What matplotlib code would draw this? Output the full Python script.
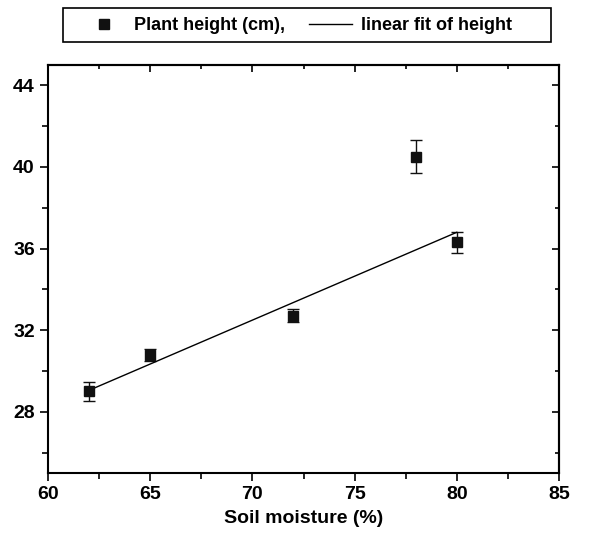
import matplotlib.pyplot as plt
from matplotlib.lines import Line2D
from matplotlib.patches import Rectangle
from matplotlib.ticker import MultipleLocator

# data
moisture = [62, 65, 72, 78, 80]
height = [29.0, 30.8, 32.7, 40.5, 36.3]
height_err = [0.45, 0.3, 0.32, 0.8, 0.5]
fit_x = [62, 80]
fit_y = [29.05, 36.8]

plt.rcParams["font.family"] = ["Liberation Sans", "DejaVu Sans"]
plt.rcParams["font.weight"] = "bold"

fig = plt.figure(figsize=(6.0, 5.36), dpi=100)
ax = fig.add_axes([48 / 600, 63 / 536, 511 / 600, 408 / 536])

ax.errorbar(moisture, height, yerr=height_err, fmt="s", color="#111111",
            ms=6.5, capsize=4, elinewidth=1, capthick=1)
ax.plot(fit_x, fit_y, color="black", lw=1)

ax.set_xlim(60, 85)
ax.set_ylim(25, 45)
ax.xaxis.set_major_locator(MultipleLocator(5))
ax.xaxis.set_minor_locator(MultipleLocator(2.5))
ax.yaxis.set_major_locator(MultipleLocator(4))
ax.yaxis.set_minor_locator(MultipleLocator(2))

ax.tick_params(which="both", direction="out", labelsize=14, width=1.2)
ax.tick_params(which="major", length=6)
ax.tick_params(which="minor", length=4)
for lab in ax.get_xticklabels() + ax.get_yticklabels():
    lab.set_fontweight("bold")

# inward ticks on top and right
sec_x = ax.secondary_xaxis("top")
sec_x.xaxis.set_major_locator(MultipleLocator(5))
sec_x.xaxis.set_minor_locator(MultipleLocator(2.5))
sec_x.tick_params(which="both", direction="in", labeltop=False, width=1.2)
sec_x.tick_params(which="major", length=5)
sec_x.tick_params(which="minor", length=3)
sec_y = ax.secondary_yaxis("right")
sec_y.yaxis.set_major_locator(MultipleLocator(4))
sec_y.yaxis.set_minor_locator(MultipleLocator(2))
sec_y.tick_params(which="both", direction="in", labelright=False, width=1.2)
sec_y.tick_params(which="major", length=5)
sec_y.tick_params(which="minor", length=3)

for s in ax.spines.values():
    s.set_linewidth(1.5)
sec_x.spines["top"].set_linewidth(1.5)
sec_y.spines["right"].set_linewidth(1.5)

ax.set_xlabel("Soil moisture (%)", fontsize=14, fontweight="bold", labelpad=5)

# legend box above the plot
fig.patches.append(Rectangle((63 / 600, 1 - 42 / 536), 488 / 600, 34 / 536,
                             transform=fig.transFigure, fill=False,
                             edgecolor="black", lw=1.2))
handles = [Line2D([], [], marker="s", ls="none", color="#111111", ms=6.5),
           Line2D([], [], color="black", lw=1)]
leg = fig.legend(handles, ["Plant height (cm),", "linear fit of height"],
                 loc="center", bbox_to_anchor=(297 / 600, 1 - 26 / 536),
                 ncol=2, frameon=False, fontsize=13, handlelength=2.4,
                 handletextpad=0.5, columnspacing=1.3)
for t in leg.get_texts():
    t.set_fontweight("bold")

fig.savefig("out.png", dpi=100)
